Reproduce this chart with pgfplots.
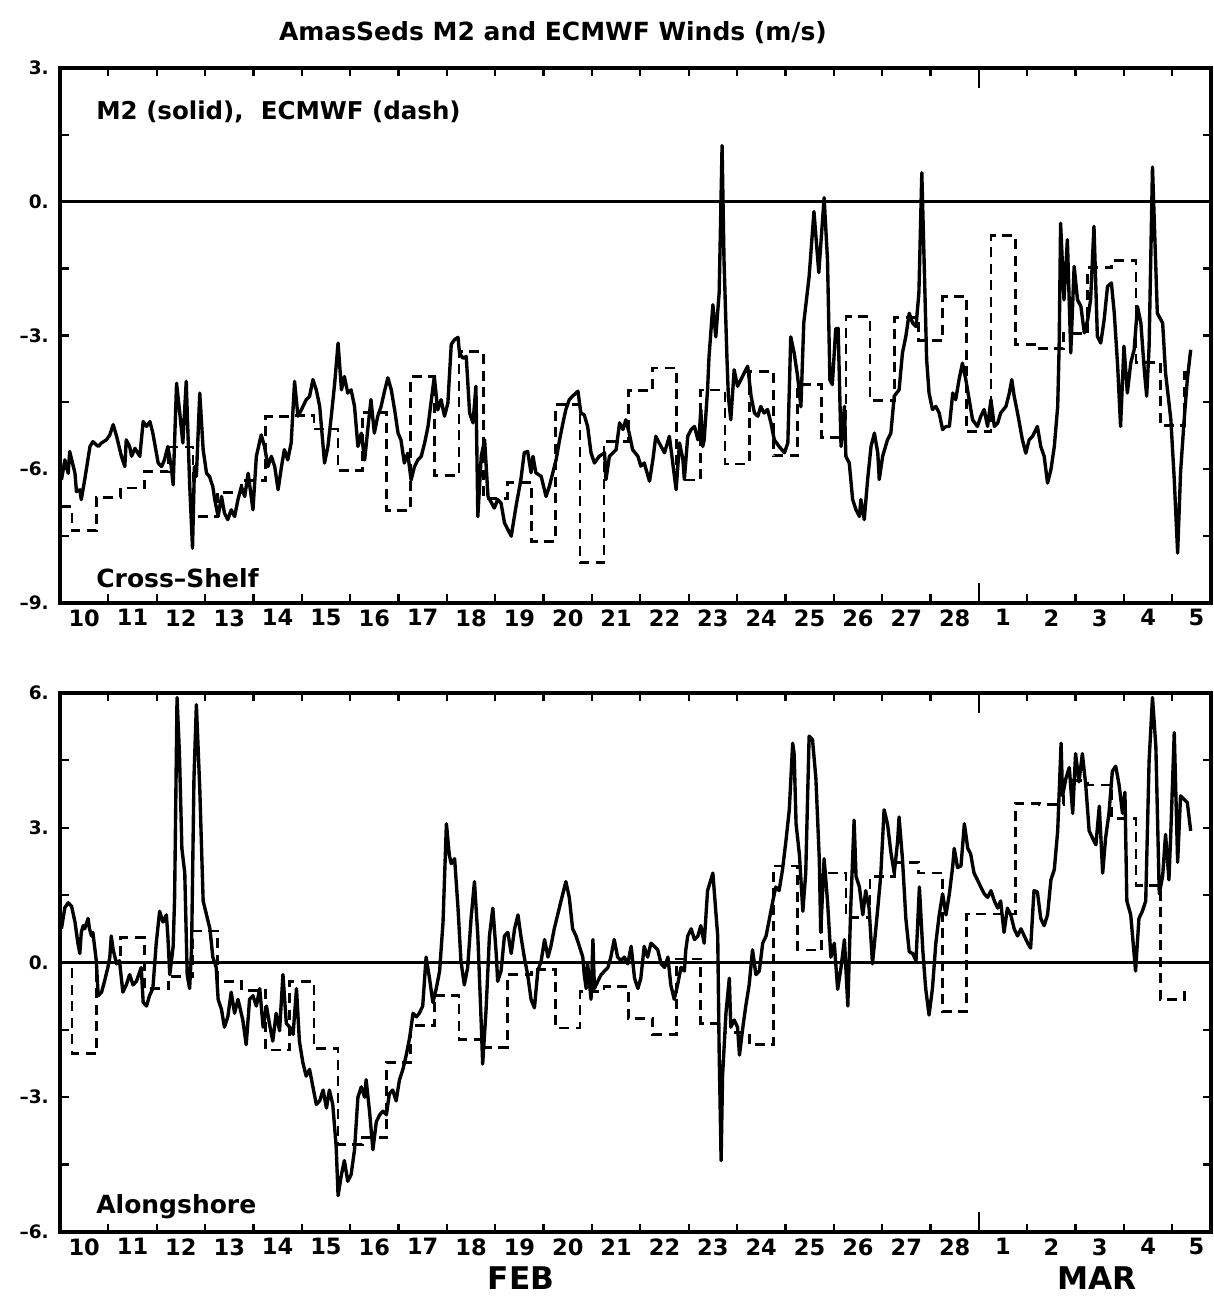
\documentclass[border=0pt]{standalone}
\usepackage{pgfplots}
\pgfplotsset{compat=1.18}
\usepackage{fontspec}
\setmainfont{DejaVu Sans}
\pgfplotsset{
  panel/.style={
    scale only axis, width=460.4pt,
    xmin=10, xmax=33.80,
    axis line style={line width=1.3pt},
    tick align=inside,
    xtick pos=both, ytick pos=both,
    xtick={10,11,...,33},
    xticklabels={10,11,12,13,14,15,16,17,18,19,20,21,22,23,24,25,26,27,28,1,2,3,4,5},
    minor xtick={29},
    minor y tick num=0,
    major tick length=3.4pt, minor tick length=8pt,
    major tick style={draw=black, line width=0.9pt},
    minor tick style={draw=black, line width=0.9pt},
    xticklabel style={font=\fontsize{9}{10}\selectfont\bfseries, xshift=9.67pt, yshift=1pt},
    yticklabel style={font=\fontsize{7.4}{8}\selectfont\bfseries, xshift=-1pt},
    clip=true,
  },
  solid line/.style={black, line width=1.35pt, line join=round},
  dash line/.style={black, line width=1.1pt, const plot, dash pattern=on 4pt off 2.6pt},
}
\begin{document}
\begin{tikzpicture}
\path[use as bounding box] (0,0) rectangle (485.2pt,519.2pt);
% ---------------- top panel -----------------
\begin{axis}[panel, at={(24pt,278pt)}, anchor=south west, height=214pt,
  ymin=-9, ymax=3, ytick={-9,-7.5,...,3}, yticklabels={--9.,,--6.,,--3.,,0.,,3.}]
\addplot[black, line width=1.3pt, forget plot] coordinates {(10,0) (33.8,0)};
\addplot[dash line] table {
10.03 -6.84
10.25 -7.38
10.75 -6.64
11.25 -6.42
11.75 -6.05
12.25 -5.50
12.75 -7.06
13.25 -6.52
13.75 -6.26
14.25 -4.82
14.75 -4.80
15.25 -5.10
15.75 -6.03
16.25 -4.73
16.75 -6.93
17.25 -3.92
17.75 -6.14
18.25 -3.36
18.75 -6.66
19.25 -6.30
19.75 -7.62
20.25 -4.55
20.75 -8.10
21.25 -5.38
21.75 -4.24
22.25 -3.73
22.75 -6.24
23.25 -4.22
23.75 -5.88
24.25 -3.81
24.75 -5.70
25.25 -4.10
25.75 -5.29
26.25 -2.58
26.75 -4.46
27.25 -2.60
27.75 -3.12
28.25 -2.13
28.75 -5.16
29.25 -0.76
29.75 -3.20
30.25 -3.30
30.75 -2.96
31.25 -1.48
31.75 -1.32
32.25 -3.60
32.75 -5.02
33.25 -3.83
33.40 -3.83
};
\addplot[solid line] table {
10.03 -6.24
10.10 -5.79
10.17 -6.09
10.20 -5.60
10.31 -6.09
10.34 -6.50
10.41 -6.46
10.44 -6.68
10.51 -6.24
10.62 -5.49
10.68 -5.38
10.79 -5.49
10.86 -5.41
10.96 -5.34
11.03 -5.23
11.10 -5.00
11.17 -5.26
11.27 -5.71
11.34 -5.94
11.37 -5.34
11.44 -5.49
11.48 -5.71
11.55 -5.53
11.65 -5.71
11.72 -4.93
11.79 -5.04
11.86 -4.93
11.92 -5.19
12.03 -5.86
12.10 -5.94
12.16 -5.79
12.23 -5.49
12.30 -5.94
12.34 -6.35
12.41 -4.07
12.47 -4.67
12.54 -5.41
12.61 -4.03
12.68 -6.31
12.74 -7.77
12.78 -5.94
12.82 -6.16
12.89 -4.29
12.96 -5.56
13.03 -6.09
13.09 -6.16
13.16 -6.39
13.20 -6.68
13.27 -7.06
13.34 -6.61
13.40 -6.98
13.47 -7.13
13.54 -6.91
13.61 -7.06
13.68 -6.68
13.75 -6.39
13.82 -6.61
13.89 -6.09
13.99 -6.91
14.06 -5.71
14.16 -5.23
14.23 -5.49
14.30 -5.94
14.37 -5.71
14.44 -5.94
14.51 -6.46
14.58 -5.94
14.64 -5.56
14.71 -5.79
14.78 -5.41
14.85 -4.03
14.92 -4.81
14.99 -4.67
15.09 -4.44
15.16 -4.37
15.23 -3.99
15.30 -4.22
15.37 -4.59
15.47 -5.86
15.54 -5.49
15.61 -4.81
15.68 -4.07
15.75 -3.17
15.82 -4.22
15.88 -3.92
15.95 -4.29
16.02 -4.22
16.09 -4.59
16.16 -5.49
16.23 -5.19
16.30 -5.79
16.37 -5.04
16.43 -4.44
16.50 -5.19
16.57 -4.81
16.64 -4.59
16.71 -4.25
16.78 -3.95
16.85 -4.22
16.92 -4.67
16.99 -5.19
17.05 -5.34
17.12 -5.86
17.19 -5.64
17.26 -6.24
17.33 -5.94
17.40 -5.79
17.47 -5.71
17.54 -5.41
17.61 -5.04
17.67 -4.52
17.74 -3.92
17.81 -4.67
17.88 -4.44
17.95 -4.81
18.02 -4.52
18.09 -3.20
18.16 -3.09
18.23 -3.04
18.26 -3.39
18.33 -3.51
18.40 -3.47
18.47 -4.74
18.54 -4.96
18.60 -4.14
18.64 -7.06
18.71 -5.71
18.78 -5.34
18.85 -6.61
18.98 -6.87
19.05 -6.68
19.12 -6.76
19.19 -7.20
19.26 -7.35
19.33 -7.50
19.43 -6.83
19.53 -6.23
19.60 -5.63
19.67 -5.60
19.74 -6.08
19.78 -5.71
19.84 -6.08
19.95 -6.16
20.05 -6.61
20.12 -6.38
20.19 -6.08
20.26 -5.78
20.33 -5.34
20.40 -4.96
20.46 -4.66
20.53 -4.44
20.60 -4.36
20.71 -4.25
20.77 -4.74
20.84 -4.78
20.91 -5.04
20.98 -5.63
21.05 -5.86
21.15 -5.71
21.26 -5.63
21.29 -6.23
21.36 -5.71
21.50 -5.56
21.57 -4.96
21.64 -5.11
21.70 -4.89
21.77 -5.19
21.84 -5.56
21.95 -5.71
22.01 -5.93
22.08 -5.86
22.19 -6.27
22.26 -5.78
22.32 -5.26
22.39 -5.41
22.50 -5.63
22.60 -5.26
22.67 -5.86
22.74 -6.46
22.81 -5.41
22.88 -5.78
22.91 -6.23
22.98 -5.26
23.05 -5.11
23.12 -5.04
23.19 -5.34
23.22 -5.19
23.25 -4.66
23.29 -5.49
23.32 -5.34
23.39 -4.21
23.42 -3.48
23.50 -2.31
23.56 -3.03
23.63 -2.04
23.69 1.26
23.73 -1.30
23.79 -3.48
23.82 -4.36
23.87 -4.89
23.94 -3.77
24.01 -4.14
24.08 -3.99
24.18 -3.77
24.22 -3.69
24.29 -4.36
24.36 -4.74
24.43 -4.81
24.49 -4.59
24.56 -4.74
24.63 -4.66
24.70 -4.96
24.77 -5.34
24.87 -5.49
24.98 -5.63
25.05 -5.41
25.11 -3.03
25.18 -3.39
25.25 -3.90
25.32 -4.60
25.38 -2.71
25.49 -1.68
25.59 -0.22
25.69 -1.59
25.80 0.09
25.87 -1.30
25.92 -4.00
25.97 -4.10
26.04 -2.85
26.09 -2.84
26.15 -5.49
26.22 -4.59
26.25 -5.71
26.32 -5.86
26.39 -6.68
26.46 -6.91
26.53 -7.06
26.56 -6.68
26.63 -7.13
26.70 -6.23
26.77 -5.49
26.84 -5.19
26.91 -5.64
26.94 -6.23
27.01 -5.71
27.11 -5.34
27.18 -5.19
27.25 -4.36
27.35 -4.22
27.42 -3.39
27.49 -3.02
27.56 -2.50
27.63 -2.72
27.70 -2.80
27.76 -2.04
27.82 0.65
27.86 -1.00
27.92 -3.54
27.97 -4.29
28.04 -4.66
28.11 -4.59
28.18 -4.74
28.25 -5.11
28.32 -5.04
28.39 -5.04
28.46 -4.29
28.52 -4.44
28.59 -3.99
28.66 -3.62
28.73 -3.99
28.80 -4.44
28.87 -4.89
28.97 -5.04
29.04 -4.81
29.11 -4.66
29.18 -5.04
29.25 -4.44
29.32 -5.04
29.39 -4.96
29.45 -4.74
29.56 -4.59
29.63 -4.29
29.68 -3.99
29.73 -4.36
29.80 -4.74
29.90 -5.34
29.97 -5.64
30.04 -5.34
30.11 -5.26
30.21 -5.04
30.28 -5.49
30.35 -5.71
30.42 -6.31
30.49 -6.01
30.56 -5.49
30.63 -4.59
30.66 -3.24
30.69 -0.48
30.76 -2.20
30.83 -0.85
30.90 -3.39
30.97 -1.45
31.04 -2.20
31.11 -2.35
31.18 -2.94
31.25 -2.65
31.31 -2.20
31.38 -0.55
31.45 -3.02
31.52 -3.17
31.59 -2.65
31.66 -1.90
31.74 -1.82
31.80 -2.50
31.87 -3.69
31.93 -5.04
32.00 -3.24
32.07 -4.29
32.14 -3.62
32.21 -3.32
32.28 -2.35
32.35 -2.72
32.42 -3.77
32.47 -4.36
32.52 -3.24
32.59 0.78
32.69 -2.50
32.80 -2.72
32.86 -3.84
32.97 -4.89
33.04 -6.23
33.11 -7.88
33.17 -6.08
33.24 -4.96
33.31 -3.99
33.38 -3.32
};
\end{axis}
% ---------------- bottom panel -----------------
\begin{axis}[panel, at={(24pt,26.4pt)}, anchor=south west, height=215.6pt,
  ymin=-6, ymax=6, ytick={-6,-4.5,...,6}, yticklabels={--6.,,--3.,,0.,,3.,,6.}]
\addplot[black, line width=0.9pt, forget plot] coordinates {(10,0) (33.8,0)};
\addplot[dash line] table {
10.03 0.00
10.25 -2.03
10.75 0.00
11.25 0.55
11.75 -0.58
12.25 -0.31
12.75 0.70
13.25 -0.42
13.75 -0.62
14.25 -1.95
14.75 -0.42
15.25 -1.91
15.75 -4.05
16.25 -3.90
16.75 -2.22
17.25 -1.40
17.75 -0.74
18.25 -1.71
18.75 -1.89
19.25 -0.27
19.75 -0.15
20.25 -1.46
20.75 -0.65
21.25 -0.54
21.75 -1.24
22.25 -1.60
22.75 0.08
23.25 -1.35
23.75 -1.56
24.25 -1.83
24.75 2.15
25.25 0.28
25.75 1.99
26.25 1.00
26.75 1.92
27.25 2.23
27.75 1.99
28.25 -1.09
28.75 1.08
29.25 1.08
29.75 3.54
30.25 3.52
30.75 4.05
31.25 3.95
31.75 3.20
32.25 1.72
32.75 -0.82
33.25 -0.66
33.40 -0.66
};
\addplot[solid line] table {
10.03 0.75
10.10 1.22
10.17 1.33
10.24 1.25
10.31 0.90
10.37 0.43
10.41 0.20
10.44 0.67
10.48 0.82
10.51 0.75
10.58 0.98
10.61 0.75
10.65 0.59
10.68 0.67
10.75 0.04
10.79 -0.74
10.86 -0.66
10.92 -0.42
10.99 -0.11
11.03 0.12
11.06 0.59
11.10 0.28
11.17 -0.03
11.23 0.04
11.30 -0.66
11.37 -0.50
11.44 -0.27
11.51 -0.50
11.58 -0.42
11.68 -0.11
11.72 -0.89
11.79 -0.97
11.85 -0.74
11.92 -0.58
11.99 0.43
12.06 1.14
12.13 0.90
12.20 1.06
12.23 0.59
12.27 -0.27
12.34 0.36
12.37 1.45
12.42 5.90
12.47 4.65
12.52 2.54
12.58 1.99
12.63 -0.27
12.68 -0.58
12.72 0.28
12.77 4.10
12.82 5.74
12.89 3.87
12.96 1.37
13.03 1.06
13.10 0.75
13.16 0.12
13.23 -0.11
13.27 -0.82
13.34 -1.05
13.40 -1.44
13.47 -1.21
13.54 -0.66
13.61 -1.13
13.68 -0.82
13.78 -1.28
13.85 -1.83
13.92 -0.82
13.99 -0.74
14.06 -0.97
14.13 -0.58
14.20 -1.44
14.27 -0.97
14.33 -1.36
14.40 -1.75
14.47 -1.13
14.54 -1.52
14.61 -0.27
14.68 -1.36
14.75 -1.44
14.82 -1.60
14.89 -0.58
14.95 -1.75
15.02 -2.22
15.09 -2.53
15.16 -2.38
15.23 -2.77
15.30 -3.16
15.37 -3.08
15.44 -2.84
15.51 -3.24
15.57 -2.84
15.64 -3.16
15.71 -4.09
15.75 -5.19
15.82 -4.72
15.88 -4.41
15.95 -4.87
16.02 -4.72
16.09 -4.17
16.16 -3.00
16.23 -2.77
16.30 -3.00
16.33 -2.61
16.40 -3.31
16.47 -4.17
16.54 -3.55
16.61 -3.39
16.68 -3.31
16.75 -3.39
16.81 -2.92
16.88 -2.84
16.95 -3.08
17.02 -2.61
17.09 -2.38
17.16 -2.06
17.23 -1.67
17.30 -1.13
17.37 -1.21
17.43 -1.13
17.50 -0.97
17.57 0.12
17.64 -0.35
17.71 -0.89
17.78 -0.58
17.85 -0.19
17.92 0.90
17.99 3.09
18.05 2.39
18.09 2.20
18.16 2.31
18.23 1.21
18.29 0.04
18.36 -0.50
18.43 -0.11
18.50 0.98
18.57 1.80
18.64 0.59
18.71 -1.36
18.74 -2.26
18.81 -1.05
18.88 0.59
18.95 1.21
19.02 0.20
19.05 -0.42
19.12 -0.19
19.19 0.59
19.26 0.67
19.33 0.20
19.40 0.75
19.47 1.06
19.53 0.59
19.60 0.12
19.67 -0.27
19.74 -0.82
19.81 -1.01
19.88 -0.19
19.95 0.04
20.02 0.51
20.09 0.12
20.15 0.36
20.22 0.75
20.29 1.06
20.36 1.37
20.46 1.80
20.53 1.45
20.60 0.75
20.67 0.59
20.74 0.36
20.81 0.12
20.84 -0.27
20.88 -0.58
20.91 -0.03
20.98 -0.82
21.02 0.51
21.05 -0.58
21.12 -0.42
21.19 -0.27
21.26 -0.19
21.33 -0.11
21.39 0.12
21.46 0.51
21.53 0.12
21.60 0.04
21.67 0.12
21.74 -0.03
21.81 0.36
21.88 -0.35
21.95 -0.58
22.01 -0.35
22.08 0.36
22.15 0.12
22.22 0.43
22.29 0.36
22.36 0.28
22.43 -0.03
22.50 -0.11
22.57 0.12
22.63 -0.50
22.70 -0.82
22.77 -0.50
22.84 -0.11
22.91 -0.19
22.94 0.28
22.98 0.59
23.05 0.75
23.12 0.51
23.19 0.59
23.25 0.82
23.32 0.43
23.39 1.60
23.50 1.99
23.56 1.14
23.60 0.59
23.63 -1.99
23.67 -4.41
23.70 -2.53
23.77 -1.13
23.84 -0.35
23.87 -1.44
23.94 -1.28
24.01 -1.44
24.05 -2.06
24.12 -1.44
24.18 -0.97
24.25 -0.50
24.32 0.28
24.39 -0.27
24.46 -0.19
24.53 0.43
24.60 0.59
24.67 0.98
24.74 1.37
24.80 1.68
24.87 1.60
24.94 2.07
25.01 2.70
25.08 3.40
25.15 4.88
25.18 4.65
25.22 3.09
25.29 2.39
25.36 1.14
25.42 1.99
25.49 5.04
25.56 4.96
25.63 4.10
25.70 2.31
25.73 0.67
25.80 2.31
25.87 1.37
25.94 0.12
26.01 0.43
26.08 -0.60
26.15 -0.11
26.22 0.51
26.29 -0.97
26.35 1.21
26.42 3.17
26.46 1.92
26.53 1.68
26.60 1.06
26.66 1.60
26.73 1.21
26.80 -0.03
26.91 1.21
26.97 1.92
27.04 3.40
27.11 3.09
27.18 2.46
27.25 1.99
27.32 2.70
27.35 3.24
27.42 2.31
27.49 0.98
27.56 0.24
27.63 0.20
27.70 0.04
27.77 1.68
27.84 0.28
27.90 -0.58
27.97 -1.17
28.04 -0.58
28.11 0.43
28.18 1.06
28.25 1.53
28.32 1.06
28.39 1.53
28.46 2.15
28.49 2.54
28.56 2.11
28.63 2.15
28.70 3.09
28.77 2.54
28.83 2.42
28.90 1.99
28.97 1.84
29.04 1.68
29.11 1.53
29.18 1.45
29.25 1.60
29.32 1.37
29.39 1.21
29.45 1.37
29.52 0.67
29.59 1.21
29.66 1.06
29.73 0.75
29.80 0.59
29.87 0.75
29.94 0.59
30.01 0.43
30.07 0.32
30.14 1.60
30.21 1.57
30.28 0.98
30.35 0.82
30.42 1.06
30.49 1.84
30.56 2.07
30.63 2.93
30.70 4.88
30.73 3.71
30.80 4.10
30.87 4.34
30.94 3.32
31.00 4.65
31.07 4.02
31.14 4.65
31.21 3.95
31.28 2.93
31.35 2.77
31.42 2.62
31.49 3.48
31.56 1.99
31.62 2.77
31.69 3.32
31.76 4.26
31.83 4.37
31.90 3.95
31.97 3.32
32.02 3.79
32.06 1.37
32.14 1.06
32.24 -0.19
32.31 0.98
32.38 1.14
32.45 1.37
32.52 4.49
32.59 5.90
32.66 4.80
32.73 1.53
32.80 1.92
32.86 2.85
32.93 1.84
32.97 2.93
33.04 5.12
33.11 2.23
33.17 3.71
33.31 3.56
33.38 2.93
};
\end{axis}
% ---------------- texts -----------------
\node[font=\fontsize{10}{12}\selectfont\bfseries] at (221.2pt,506pt) {AmasSeds M2 and ECMWF Winds (m/s)};
\node[anchor=west, font=\fontsize{9.8}{12}\selectfont\bfseries] at (35pt,474.4pt) {M2 (solid),\ \ ECMWF (dash)};
\node[anchor=west, font=\fontsize{10}{12}\selectfont\bfseries] at (35pt,288pt) {Cross--Shelf};
\node[anchor=west, font=\fontsize{10}{12}\selectfont\bfseries] at (35pt,36.4pt) {Alongshore};
\node[font=\fontsize{12.5}{14}\selectfont\bfseries] at (208.4pt,8pt) {FEB};
\node[font=\fontsize{12.5}{14}\selectfont\bfseries] at (438.8pt,8pt) {MAR};
\end{tikzpicture}
\end{document}
